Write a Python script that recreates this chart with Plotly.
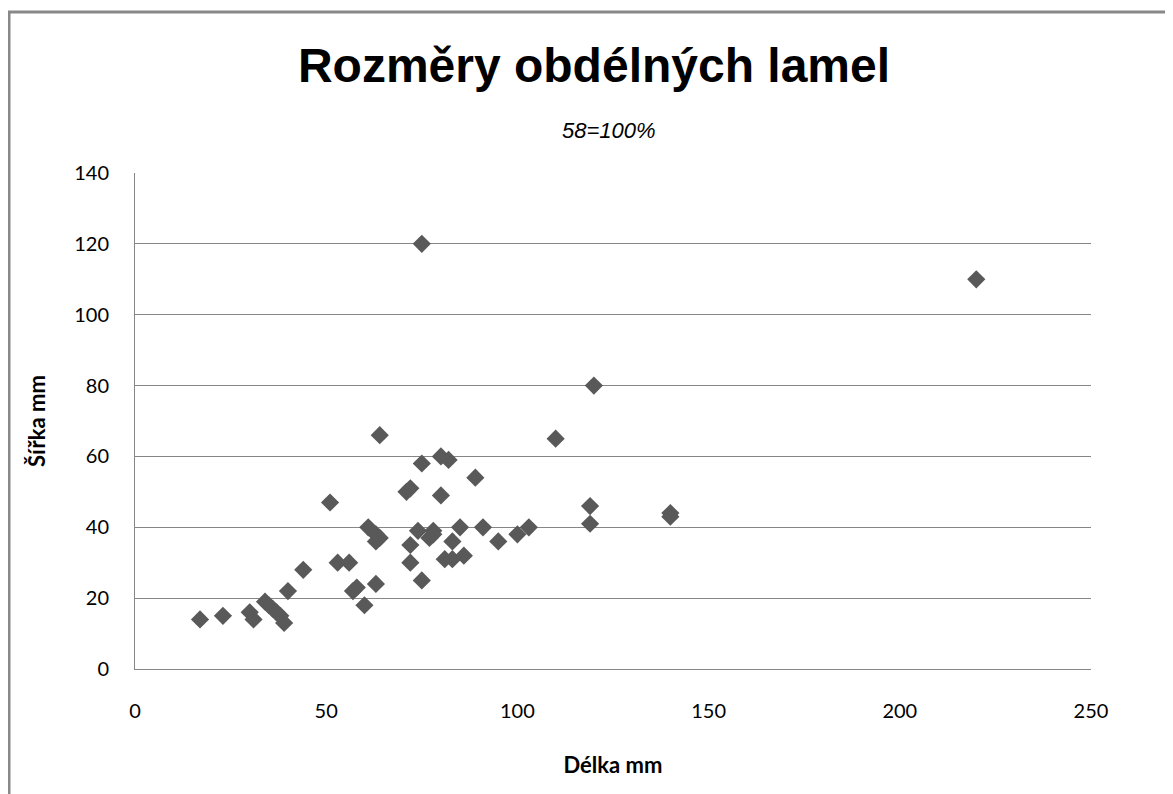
import plotly.graph_objects as go

# length (Délka) and width (Šířka) of the rectangular lamellae, mm
delka = [17, 23, 30, 31, 34, 35, 36, 37, 38, 39, 40, 44,
         51, 53, 56, 57, 58, 60, 61, 63, 63, 64, 63, 64,
         71, 72, 72, 72, 75, 75, 74, 75, 77, 78, 78, 80,
         82, 80, 81, 83, 83, 85, 86, 89, 91, 95, 100, 103,
         110, 119, 119, 120, 140, 140, 220]
sirka = [14, 15, 16, 14, 19, 18, 17, 16, 15, 13, 22, 28,
         47, 30, 30, 22, 23, 18, 40, 38, 36, 37, 24, 66,
         50, 51, 35, 30, 58, 25, 39, 120, 37, 39, 38, 60,
         59, 49, 31, 31, 36, 40, 32, 54, 40, 36, 38, 40,
         65, 46, 41, 80, 44, 43, 110]

x_ticks = [0, 50, 100, 150, 200, 250]
y_ticks = [0, 20, 40, 60, 80, 100, 120, 140]

# page has an 8px body margin, so the figure is a bit smaller than the window
W, H = 1165, 786
L, T, R, B = 127, 165, 82, 125
pw, ph = W - L - R, H - T - B

fig = go.Figure()
fig.add_trace(go.Scatter(
    x=delka, y=sirka, mode='markers',
    marker=dict(symbol='diamond', size=14, color='#595959'),
    showlegend=False
))

fig.update_xaxes(
    range=[0, 250], tickvals=x_ticks, showgrid=False, zeroline=False,
    showline=True, linecolor='#868686', linewidth=1,
    ticks='outside', ticklen=0, ticklabelstandoff=24,
    title=dict(text='<b>Délka mm</b>', standoff=36,
               font=dict(family='Lato', size=22, color='#000000'))
)
fig.update_yaxes(
    range=[0, 140], tickvals=y_ticks, showgrid=True, gridcolor='#868686',
    gridwidth=1, zeroline=False,
    showline=True, linecolor='#868686', linewidth=1,
    ticks='outside', ticklen=0, ticklabelstandoff=21,
    title=dict(text='<b>Šířka mm</b>', standoff=22,
               font=dict(family='Lato', size=22, color='#000000'))
)

fig.update_layout(
    width=W, height=H,
    margin=dict(l=L, r=R, t=T, b=B),
    plot_bgcolor='white', paper_bgcolor='white',
    font=dict(family='Lato', size=20, color='#000000'),
    title=dict(text='<b>Rozměry obdélných lamel</b>', x=(594 - 8) / W,
               xanchor='center', y=1 - 57 / H, yanchor='middle', yref='container',
               font=dict(family='Liberation Sans', size=48, color='#000000')),
)

fig.add_annotation(
    text='<i>58=100%</i>', xref='paper', yref='paper',
    x=(609 - 135) / pw, y=(669 - 130) / ph, showarrow=False,
    xanchor='center', yanchor='middle',
    font=dict(family='Liberation Sans', size=22, color='#000000')
)

# outer chart frame, partly cut off on the right and bottom
fig.add_shape(
    type='rect', xref='paper', yref='paper',
    x0=(9 - 135) / pw, x1=1.2, y0=-0.5, y1=(669 - 12) / ph,
    line=dict(color='#888888', width=3), layer='below'
)

fig.write_html("out.html")
